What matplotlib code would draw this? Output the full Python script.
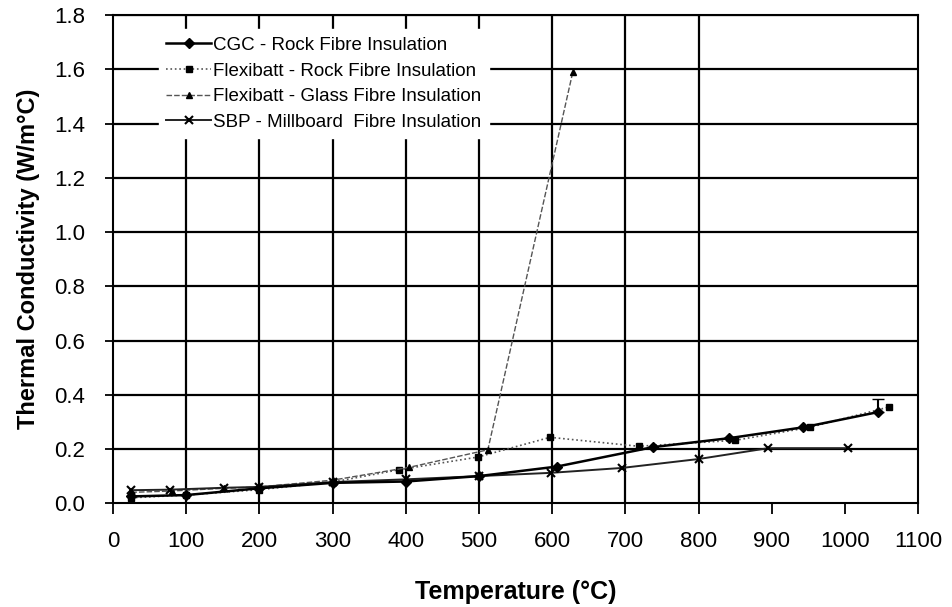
import matplotlib
matplotlib.use("Agg")
import matplotlib.pyplot as plt

plt.rcParams['font.family'] = ['Liberation Sans', 'DejaVu Sans']

# CGC - Rock Fibre
cgc_t = [25, 100, 200, 300, 400, 500, 606, 738, 842, 943, 1045]
cgc_k = [0.025, 0.03, 0.055, 0.075, 0.08, 0.10, 0.135, 0.207, 0.24, 0.28, 0.336]
cgc_err = 0.05  # upper bar on last point

# Flexibatt - Rock Fibre
fr_t = [25, 100, 200, 300, 390, 498, 597, 718, 850, 952, 1060]
fr_k = [0.02, 0.03, 0.05, 0.078, 0.123, 0.17, 0.243, 0.21, 0.232, 0.28, 0.355]

# Flexibatt - Glass Fibre
fg_t = [25, 80, 152, 200, 300, 404, 512, 628]
fg_k = [0.04, 0.045, 0.055, 0.06, 0.085, 0.132, 0.197, 1.59]

# SBP - Millboard Fibre
sbp_t = [25, 78, 152, 199, 300, 400, 500, 598, 695, 800, 895, 1004]
sbp_k = [0.048, 0.05, 0.057, 0.06, 0.078, 0.088, 0.10, 0.112, 0.13, 0.163, 0.203, 0.203]

labels = ['CGC - Rock Fibre Insulation', 'Flexibatt - Rock Fibre Insulation',
          'Flexibatt - Glass Fibre Insulation', 'SBP - Millboard  Fibre Insulation']
x_ticks = list(range(0, 1101, 100))
y_ticks = [i / 10 for i in range(0, 19, 2)]
v_grid = list(range(100, 801, 100))

fig = plt.figure(figsize=(9.53, 6.07), dpi=100)
ax = fig.add_axes([0.1186, 0.171, 0.845, 0.804])

# grid
for yv in y_ticks[1:]:
    ax.axhline(yv, color='black', lw=1.6, zorder=1)
for xv in v_grid:
    ax.axvline(xv, color='black', lw=1.6, zorder=1)

l1, = ax.plot(cgc_t, cgc_k, color='black', lw=1.8, marker='D', ms=5, zorder=4)
ax.errorbar(cgc_t[-1:], cgc_k[-1:], yerr=[[0], [cgc_err]], fmt='none',
            ecolor='black', elinewidth=1.5, capsize=4, zorder=4)
l2, = ax.plot(fr_t, fr_k, color='#555555', lw=1.2, ls=':', marker='s', ms=5,
              markerfacecolor='black', markeredgecolor='black', zorder=3)
l3, = ax.plot(fg_t, fg_k, color='#555555', lw=1.0, ls=(0, (4, 1.5)), marker='^', ms=5,
              markerfacecolor='black', markeredgecolor='black', zorder=3)
l4, = ax.plot(sbp_t, sbp_k, color='#222222', lw=1.4, marker='x', ms=6, mew=1.5,
              markeredgecolor='black', zorder=3)

ax.set_xlim(0, 1100)
ax.set_ylim(0, 1.8)
ax.set_xticks(x_ticks)
ax.set_yticks(y_ticks)
ax.set_yticklabels([f'{v:.1f}' for v in y_ticks])
ax.tick_params(axis='both', labelsize=16, direction='out', width=1.3, color='black')
ax.tick_params(axis='x', length=8, pad=12)
ax.tick_params(axis='y', length=6, pad=14)
for s in ax.spines.values():
    s.set_linewidth(1.5)
    s.set_color('black')

ax.set_xlabel('Temperature (°C)', fontsize=18, fontweight='bold', labelpad=20)
ax.set_ylabel('Thermal Conductivity (W/m°C)', fontsize=17, fontweight='bold', labelpad=10)

leg = ax.legend([l1, l2, l3, l4], labels, loc='upper left', bbox_to_anchor=(0.045, 0.99),
                fontsize=13.5, frameon=True, fancybox=False, framealpha=1,
                edgecolor='white', labelspacing=0.45, handlelength=2.4, handletextpad=0.1)
leg.set_zorder(5)

fig.savefig('out.png', dpi=100)
